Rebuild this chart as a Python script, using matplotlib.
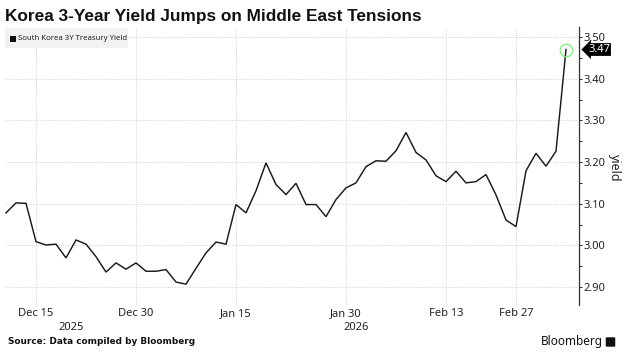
import matplotlib
matplotlib.use("Agg")
import matplotlib.pyplot as plt
import matplotlib.patches as mpatches
import pandas as pd
import numpy as np

plt.rcParams['font.family'] = ['Noto Sans', 'DejaVu Sans']

title = "Korea 3-Year Yield Jumps on Middle East Tensions"
series_name = "South Korea 3Y Treasury Yield"
source = "Source: Data compiled by Bloomberg"

holidays = ["2025-12-25", "2025-12-31", "2026-01-01", "2026-02-16",
            "2026-02-17", "2026-02-18", "2026-03-02"]
dates = [d for d in pd.bdate_range("2025-12-10", "2026-03-09")
         if d.strftime("%Y-%m-%d") not in holidays]

yields = [3.078, 3.102, 3.101, 3.009, 3.001, 3.003, 2.970, 3.013, 3.003, 2.973,
          2.936, 2.958, 2.943, 2.958, 2.938, 2.938, 2.942, 2.912, 2.907, 2.945,
          2.982, 3.008, 3.003, 3.098, 3.078, 3.131, 3.198, 3.146, 3.122, 3.149,
          3.098, 3.098, 3.069, 3.110, 3.138, 3.150, 3.189, 3.203, 3.202, 3.227,
          3.271, 3.223, 3.205, 3.167, 3.153, 3.178, 3.150, 3.153, 3.170, 3.121,
          3.061, 3.045, 3.179, 3.221, 3.190, 3.226, 3.470]

tick_dates = ["2025-12-15", "2025-12-30", "2026-01-15", "2026-01-30",
              "2026-02-13", "2026-02-27"]
tick_labels = ["Dec 15", "Dec 30", "Jan 15", "Jan 30", "Feb 13", "Feb 27"]
years = ["2025", "2026"]
y_ticks = [2.90, 3.00, 3.10, 3.20, 3.30, 3.40, 3.50]

W, H = 630, 352
fig = plt.figure(figsize=(W / 100, H / 100), dpi=100)
ax = fig.add_axes([5 / W, 1 - 305 / H, (579 - 5) / W, (305 - 27) / H])

x = np.arange(len(yields))
date_str = [d.strftime("%Y-%m-%d") for d in dates]
ax.plot(x, yields, color="#1a1a1a", lw=1.05, zorder=3, solid_joinstyle="miter")

ax.set_xlim(-0.1, 57.3)
ax.set_ylim(2.857, 3.524)

# spines
for s in ["top", "left", "bottom"]:
    ax.spines[s].set_visible(False)
ax.spines["right"].set_color("#333333")
ax.spines["right"].set_linewidth(0.9)

# y ticks on the right
ax.yaxis.tick_right()
ax.set_yticks(y_ticks)
ax.set_yticklabels([f"{v:.2f}" for v in y_ticks])
ax.set_yticks([v + 0.05 for v in y_ticks[:-1]], minor=True)
ax.tick_params(axis="y", which="both", direction="out", length=2.5, width=0.8,
               color="#333333", labelsize=8, pad=1, labelcolor="#222222")

# x ticks
tick_idx = [date_str.index(d) for d in tick_dates]
ax.set_xticks(tick_idx)
ax.set_xticklabels(tick_labels)
ax.tick_params(axis="x", length=0, labelsize=8, pad=2, labelcolor="#222222")

ax.grid(True, which="major", color="#d4d4d4", lw=0.7, ls=(0, (1, 1.2)))
ax.set_axisbelow(True)

# year labels centered on each year's span
for yr in years:
    idx = [i for i, d in enumerate(dates) if str(d.year) == yr]
    mid = (idx[0] + idx[-1]) / 2
    ax.text(mid, -0.08, yr, transform=ax.get_xaxis_transform(), ha="center",
            va="center", fontsize=8, color="#222222")

# y label
fig.text(614 / W, 1 - 168 / H, "yield", rotation=270, ha="center", va="center",
         fontsize=9, color="#222222")

# last value marker and label
last = yields[-1]
ax.plot(x[-1], last, marker="o", ms=9, mfc="none", mec="#7de87d", mew=0.9,
        zorder=4, clip_on=False)
ax.annotate(f"{last:.2f}", xy=(1.0, last), xycoords=("axes fraction", "data"),
            xytext=(6.5, 0), textcoords="offset points", ha="left", va="center",
            fontsize=8, color="white",
            bbox=dict(boxstyle="larrow,pad=0.08", fc="black", ec="black", lw=0))

# title
fig.text(5 / W, 1 - 16 / H, title, ha="left", va="center", fontsize=12.4,
         fontweight="bold", color="#111111", family=["Liberation Sans"])

# legend box
fig.patches.append(mpatches.Rectangle((5 / W, 1 - 48 / H), 123 / W, 20 / H,
                                      transform=fig.transFigure, fc="#f2f2f2",
                                      ec="none", zorder=1))
fig.patches.append(mpatches.Rectangle((10 / W, 1 - 42 / H), 6 / W, 6 / H,
                                      transform=fig.transFigure, fc="#111111",
                                      ec="none", zorder=2))
fig.text(18 / W, 1 - 38.5 / H, series_name, ha="left", va="center", fontsize=5.6,
         color="#222222", zorder=3)

# source
fig.text(8 / W, 1 - 342 / H, source, ha="left", va="center", fontsize=6.4,
         fontweight="bold", color="#111111", family=["DejaVu Sans"])
fig.text(603 / W, 1 - 342 / H, "Bloomberg", ha="right", va="center", fontsize=8.5,
         fontweight="bold", color="#111111")
fig.patches.append(mpatches.FancyBboxPatch((607 / W, 1 - 346 / H), 7 / W, 8 / H,
                                           boxstyle="round,pad=0.002",
                                           transform=fig.transFigure,
                                           fc="#111111", ec="none"))

fig.savefig("out.png", dpi=100)
